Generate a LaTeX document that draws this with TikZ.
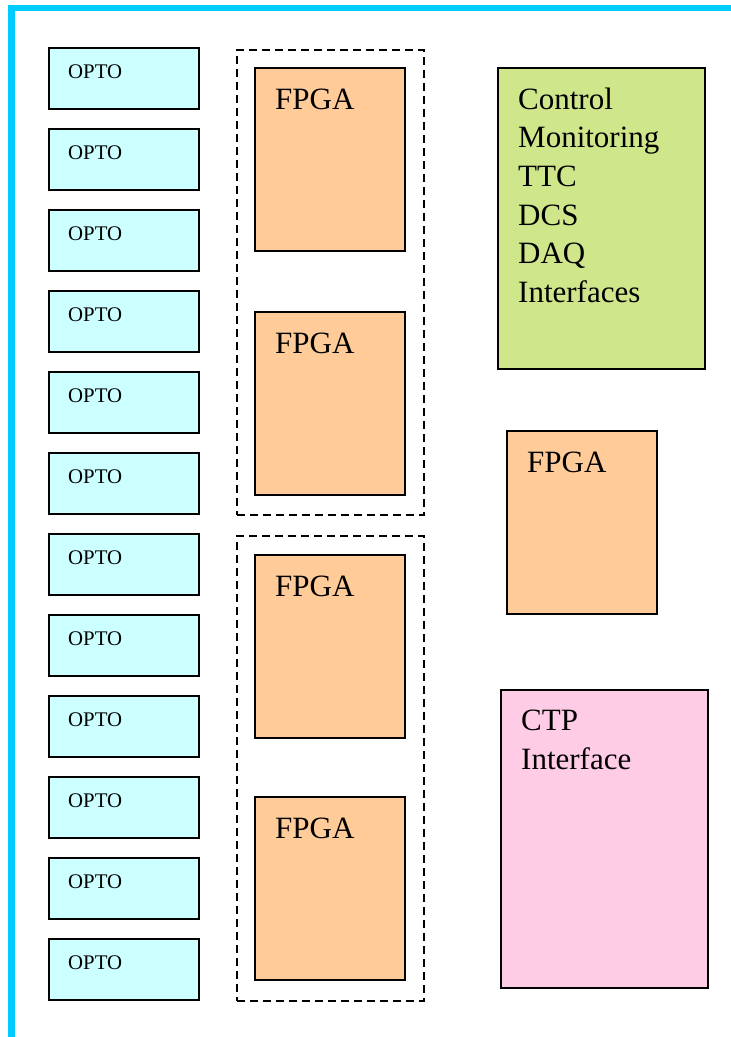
\documentclass[tikz,border=0pt]{standalone}
\usepackage{fontspec}
\setmainfont{Liberation Serif}
\usetikzlibrary{calc}
\definecolor{optocol}{RGB}{204,255,255}
\definecolor{fpgacol}{RGB}{255,204,153}
\definecolor{greencol}{RGB}{208,230,138}
\definecolor{pinkcol}{RGB}{255,204,230}
\definecolor{framecol}{RGB}{0,204,255}
\begin{document}
\begin{tikzpicture}[x=1pt,y=-1pt,
  box/.style={draw=black, line width=1.8pt, anchor=north west, inner sep=0pt, outer sep=0pt},
  opto/.style={box, fill=optocol, minimum width=150pt, minimum height=61pt},
  fpga/.style={box, fill=fpgacol, minimum width=150pt, minimum height=183pt},
  group/.style={draw=black, line width=1.6pt, dash pattern=on 8pt off 5pt, anchor=north west, inner sep=0pt, minimum width=187pt, minimum height=465pt},
  smalltxt/.style={font=\fontsize{20.8}{24}\selectfont, anchor=base west, inner sep=0pt},
  bigtxt/.style={font=\fontsize{31}{38.6}\selectfont, anchor=base west, inner sep=0pt},
  multitxt/.style={font=\fontsize{31}{38.6}\selectfont, anchor=north west, inner sep=0pt, align=left},
]
\useasboundingbox (0,0) rectangle (731,1037);
% frame
\draw[framecol, line width=6.5pt] (11.3,1040) -- (11.3,8) -- (735,8);

% OPTO column
\foreach \i in {0,...,11}{
  \node[opto] (o\i) at (49,{48+81*\i}) {};
  \node[smalltxt] (ot\i) at ($(o\i.north west)+(19,30.6)$) {OPTO};
}

% dashed groups
\node[group] (g1) at (236,49) {};
\node[group] (g2) at (236,535) {};

% FPGAs in groups
\node[fpga] (f1) at (255,68) {};
\node[fpga] (f2) at (255,312) {};
\node[fpga] (f3) at (255,555) {};
\node[fpga] (f4) at (255,797) {};
\foreach \k in {1,...,4}{
  \node[bigtxt] (ft\k) at ($(f\k.north west)+(20,41)$) {FPGA};
}

% control box
\node[box, fill=greencol, minimum width=207pt, minimum height=301pt] (ctrl) at (498,68) {};
\node[multitxt] (ctrlt) at ($(ctrl.north west)+(20,19.5)$) {Control\\Monitoring\\TTC\\DCS\\DAQ\\Interfaces};

% right FPGA
\node[fpga] (f5) at (507,431) {};
\node[bigtxt] (ft5) at ($(f5.north west)+(20,41)$) {FPGA};

% CTP interface
\node[box, fill=pinkcol, minimum width=207pt, minimum height=298pt] (ctp) at (501,690) {};
\node[multitxt] (ctpt) at ($(ctp.north west)+(20,20)$) {CTP\\Interface};
\end{tikzpicture}
\end{document}
